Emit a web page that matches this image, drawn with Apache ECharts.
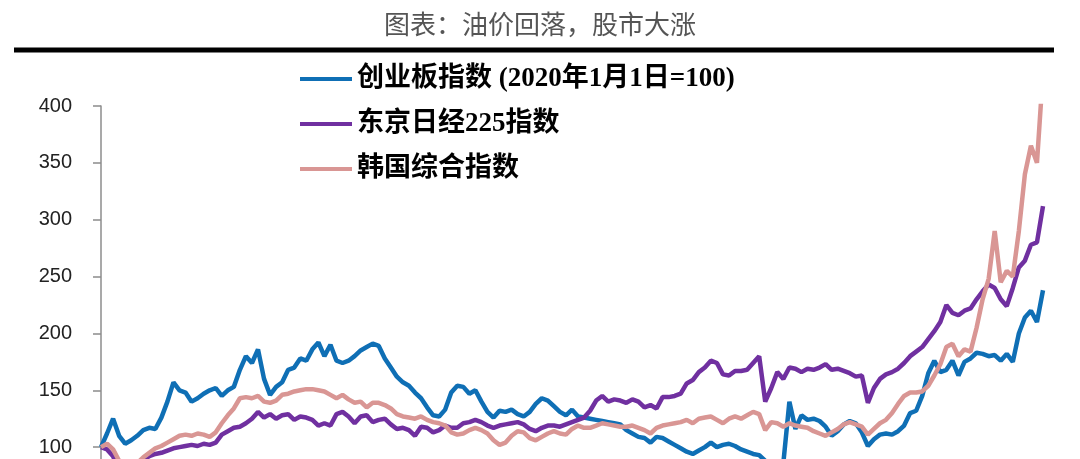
<!DOCTYPE html>
<html>
<head>
<meta charset="utf-8">
<script src="https://cdn.jsdelivr.net/npm/echarts@6/dist/echarts.min.js"></script>
<style>
html,body{margin:0;padding:0;background:#fff;}
#chart{width:1080px;height:459px;}
</style>
</head>
<body>
<div id="chart"></div>
<script>
// Half-month sample dates starting 2020-01-01 (157 points)
var dates = [];
(function(){
  for (var k = 0; k < 157; k++) {
    var y = 2020 + Math.floor(Math.floor(k / 2) / 12);
    var m = (Math.floor(k / 2) % 12) + 1;
    var d = (k % 2 === 0) ? '01' : '16';
    dates.push(y + '-' + (m < 10 ? '0' + m : m) + '-' + d);
  }
})();

var yTicks = [50, 100, 150, 200, 250, 300, 350, 400];

var chinext = [
100,112,125,110,103,106,110,115,117,116,
126,140,157,150,148,140,143,147,150,152,
145,150,153,168,180,174,186,160,146,153,
157,168,170,178,176,186,192,180,190,176,
174,176,180,185,188,191,189,178,170,162,
157,154,148,143,135,128,127,133,148,154,
153,147,150,140,131,126,132,131,133,129,
127,131,138,143,141,136,131,128,133,127,
126,125,124,123,122,121,120,115,112,109,
108,104,109,108,105,102,99,96,94,97,
100,104,100,102,103,101,98,96,94,93,
88,86,84,86,140,116,128,124,125,123,
118,110,114,120,123,121,113,101,107,111,
112,111,114,119,130,132,145,165,176,166,
168,176,163,175,178,183,182,180,181,176,
182,175,200,214,220,210,238
];

var nikkei = [
100,98,92,80,73,78,85,89,92,94,
95,97,99,100,101,102,101,103,102,104,
111,114,117,118,121,125,131,126,129,125,
128,129,124,127,126,124,119,121,119,129,
131,127,121,127,128,122,124,125,120,116,
117,115,110,118,117,113,115,119,117,117,
121,122,124,122,119,117,119,120,121,122,
120,116,114,117,119,119,118,120,122,124,
126,132,141,145,140,142,141,139,142,140,
135,137,134,144,144,145,147,156,159,166,
170,176,174,164,163,167,167,168,174,180,
140,152,166,160,170,169,166,169,168,170,
173,168,169,167,165,162,163,139,152,160,
164,166,169,174,180,184,188,195,202,210,
225,218,216,220,222,230,237,243,240,230,
224,240,258,264,278,280,312
];

var kospi = [
100,103,98,88,78,80,86,91,95,99,
101,104,107,110,111,110,112,111,109,113,
121,128,134,143,144,143,145,140,139,141,
146,147,149,150,151,151,150,149,146,143,
146,142,139,140,135,139,139,137,134,129,
127,126,125,127,124,122,121,119,113,111,
112,115,117,115,112,106,102,104,110,114,
113,108,106,109,112,114,112,111,116,119,
117,117,119,121,120,119,118,118,119,117,
115,112,117,119,120,121,122,124,121,125,
126,127,124,121,125,127,125,128,131,129,
115,122,121,118,121,119,118,117,114,112,
110,113,116,120,122,120,118,111,116,121,
124,130,138,145,148,148,149,154,163,173,
188,191,180,186,184,205,230,248,290,245,
255,250,290,340,365,350,430
];

var seriesNames = ['创业板指数 (2020年1月1日=100)', '东京日经225指数', '韩国综合指数'];
var seriesColors = ['#0f6fb5', '#7030a0', '#d99694'];
var seriesData = [chinext, nikkei, kospi];

var chart = echarts.init(document.getElementById('chart'));
chart.setOption({
  animation: false,
  backgroundColor: '#ffffff',
  title: {
    text: '图表：油价回落，股市大涨',
    left: 'center',
    top: 6,
    textStyle: {
      fontFamily: "'Noto Sans CJK SC', sans-serif",
      fontSize: 26,
      fontWeight: 'normal',
      color: '#555555'
    }
  },
  graphic: [{
    type: 'rect',
    shape: { x: 14, y: 47.5, width: 1040, height: 5 },
    style: { fill: '#000000' },
    silent: true
  }],
  legend: {
    orient: 'vertical',
    left: 295,
    top: 60,
    icon: 'rect',
    itemWidth: 52,
    itemHeight: 4,
    itemGap: 17,
    textStyle: {
      fontFamily: "'Liberation Serif', 'Noto Sans CJK SC', serif",
      fontSize: 27,
      lineHeight: 28,
      fontWeight: 'bold',
      color: '#000000'
    },
    data: seriesNames
  },
  grid: {
    left: 101,
    right: 37,
    top: 106,
    height: 398,
    outerBoundsMode: 'none',
    containLabel: false
  },
  xAxis: {
    type: 'category',
    data: dates,
    boundaryGap: false,
    axisLine: { show: false },
    axisTick: { show: false },
    axisLabel: { show: false },
    splitLine: { show: false }
  },
  yAxis: {
    type: 'value',
    min: yTicks[0],
    max: yTicks[yTicks.length - 1],
    interval: 50,
    axisLine: { show: true, lineStyle: { color: '#8c8c8c', width: 1.5 } },
    axisTick: { show: true, length: 8, lineStyle: { color: '#8c8c8c', width: 1.5 } },
    axisLabel: {
      margin: 29,
      fontFamily: "'Liberation Sans', Arial, sans-serif",
      fontSize: 20,
      color: '#222222'
    },
    splitLine: { show: false }
  },
  series: seriesNames.map(function (name, k) {
    return {
      name: name,
      type: 'line',
      data: seriesData[k],
      showSymbol: false,
      symbol: 'none',
      clip: true,
      lineStyle: { color: seriesColors[k], width: 4.5 },
      itemStyle: { color: seriesColors[k] }
    };
  })
});
</script>
</body>
</html>
